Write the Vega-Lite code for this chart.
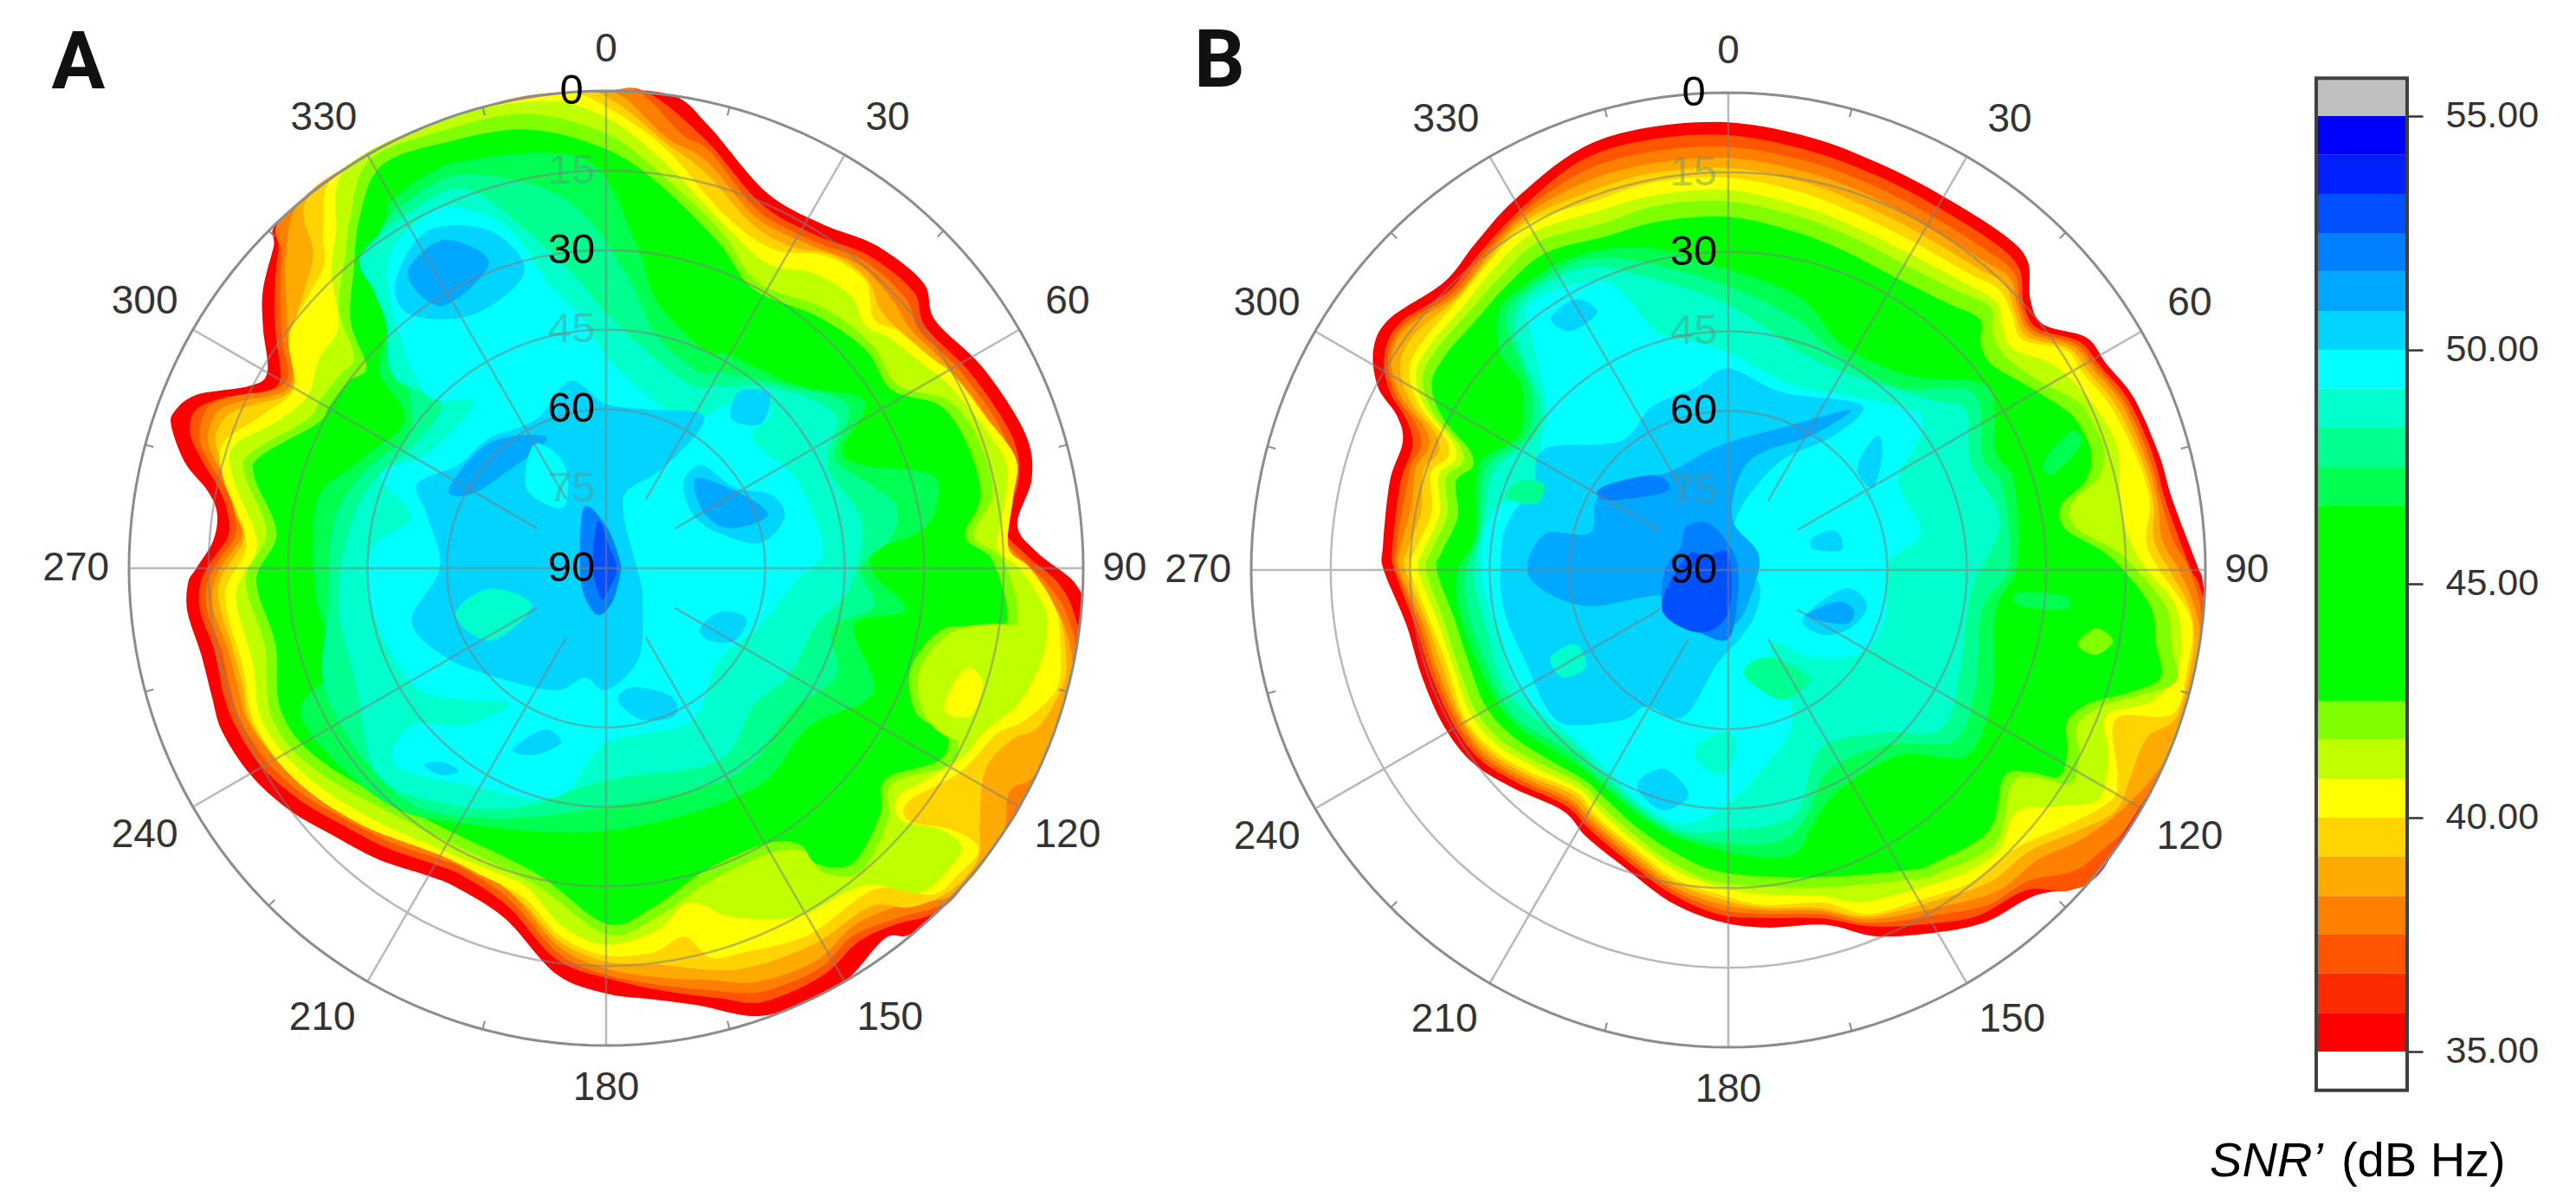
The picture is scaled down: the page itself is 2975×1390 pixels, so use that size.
{"$schema":"https://vega.github.io/schema/vega-lite/v6.json","padding":0,"spacing":0,"bounds":"flush","background":"white","config":{"view":{"stroke":null},"text":{"font":"Liberation Sans"},"axis":{"labelFont":"Liberation Sans"}},
"datasets":{
"ticks":[{"k":15,"a":15,"e":0},{"k":15,"a":15,"e":1.6},{"k":45,"a":45,"e":0},{"k":45,"a":45,"e":1.6},{"k":75,"a":75,"e":0},{"k":75,"a":75,"e":1.6},{"k":105,"a":105,"e":0},{"k":105,"a":105,"e":1.6},{"k":135,"a":135,"e":0},{"k":135,"a":135,"e":1.6},{"k":165,"a":165,"e":0},{"k":165,"a":165,"e":1.6},{"k":195,"a":195,"e":0},{"k":195,"a":195,"e":1.6},{"k":225,"a":225,"e":0},{"k":225,"a":225,"e":1.6},{"k":255,"a":255,"e":0},{"k":255,"a":255,"e":1.6},{"k":285,"a":285,"e":0},{"k":285,"a":285,"e":1.6},{"k":315,"a":315,"e":0},{"k":315,"a":315,"e":1.6},{"k":345,"a":345,"e":0},{"k":345,"a":345,"e":1.6}],
"az":[{"a":0,"e":-7.8,"t":"0"},{"a":32,"e":-10.2,"t":"30"},{"a":60,"e":-10.5,"t":"60"},{"a":90,"e":-7.8,"t":"90"},{"a":120,"e":-10.5,"t":"120"},{"a":147.7,"e":-10.2,"t":"150"},{"a":180,"e":-8,"t":"180"},{"a":212.3,"e":-10.2,"t":"210"},{"a":240,"e":-10.5,"t":"240"},{"a":270,"e":-10,"t":"270"},{"a":300,"e":-10.5,"t":"300"},{"a":327.9,"e":-10.2,"t":"330"}],
"rdark":[{"a":0,"e":0,"t":"0"},{"a":0,"e":30,"t":"30"},{"a":0,"e":60,"t":"60"},{"a":0,"e":90,"t":"90"}],
"rlight":[{"a":0,"e":15,"t":"15"},{"a":0,"e":45,"t":"45"},{"a":0,"e":75,"t":"75"}],
"A":[
{"s":35,"a":317,"e":0},{"s":35,"a":330,"e":0},{"s":35,"a":345,"e":0},{"s":35,"a":0,"e":0},{"s":35,"a":8,"e":0},{"s":35,"a":13,"e":4.3},{"s":35,"a":23,"e":12.9},{"s":35,"a":32,"e":13.4},{"s":35,"a":40,"e":10.6},{"s":35,"a":48,"e":9.5},{"s":35,"a":53,"e":12.3},{"s":35,"a":62,"e":9.5},{"s":35,"a":72,"e":7},{"s":35,"a":78,"e":7.9},{"s":35,"a":84,"e":12},{"s":35,"a":88,"e":8.5},{"s":35,"a":92,"e":1.3},{"s":35,"a":96,"e":0},{"s":35,"a":110,"e":0},{"s":35,"a":125,"e":0},{"s":35,"a":139,"e":0},{"s":35,"a":143,"e":2.6},{"s":35,"a":150,"e":0},{"s":35,"a":157,"e":0},{"s":35,"a":162,"e":1.2},{"s":35,"a":168,"e":5.7},{"s":35,"a":174,"e":8.3},{"s":35,"a":180,"e":9.8},{"s":35,"a":187,"e":12.9},{"s":35,"a":196,"e":21.2},{"s":35,"a":205,"e":23.5},{"s":35,"a":210,"e":23},{"s":35,"a":218,"e":20.3},{"s":35,"a":226,"e":17.8},{"s":35,"a":233,"e":14.7},{"s":35,"a":240,"e":12.4},{"s":35,"a":247,"e":11.3},{"s":35,"a":252,"e":11.8},{"s":35,"a":258,"e":11.9},{"s":35,"a":264,"e":10.6},{"s":35,"a":268,"e":11.1},{"s":35,"a":270,"e":12.7},{"s":35,"a":274,"e":15.7},{"s":35,"a":278,"e":15.9},{"s":35,"a":281,"e":13.4},{"s":35,"a":284,"e":8.2},{"s":35,"a":288,"e":3.8},{"s":35,"a":290,"e":3.4},{"s":35,"a":293,"e":6.2},{"s":35,"a":297,"e":14.4},{"s":35,"a":300,"e":16.2},{"s":35,"a":305,"e":11},{"s":35,"a":309,"e":6.7},{"s":35,"a":314,"e":2.8},
{"s":36.67,"a":318,"e":0},{"s":36.67,"a":330,"e":0},{"s":36.67,"a":345,"e":0},{"s":36.67,"a":0,"e":0},{"s":36.67,"a":5,"e":0},{"s":36.67,"a":13,"e":7},{"s":36.67,"a":23,"e":15.3},{"s":36.67,"a":32,"e":15.8},{"s":36.67,"a":40,"e":13},{"s":36.67,"a":48,"e":12},{"s":36.67,"a":53,"e":14.5},{"s":36.67,"a":62,"e":12},{"s":36.67,"a":72,"e":9.5},{"s":36.67,"a":78,"e":10.5},{"s":36.67,"a":84,"e":14.5},{"s":36.67,"a":88,"e":11},{"s":36.67,"a":92,"e":4.5},{"s":36.67,"a":96,"e":1},{"s":36.67,"a":100,"e":0},{"s":36.67,"a":115,"e":0},{"s":36.67,"a":130,"e":0},{"s":36.67,"a":136,"e":0},{"s":36.67,"a":141,"e":3.5},{"s":36.67,"a":146,"e":5},{"s":36.67,"a":152,"e":3},{"s":36.67,"a":160,"e":3},{"s":36.67,"a":165,"e":6},{"s":36.67,"a":171,"e":9},{"s":36.67,"a":178,"e":12},{"s":36.67,"a":187,"e":15.5},{"s":36.67,"a":196,"e":23.5},{"s":36.67,"a":205,"e":26},{"s":36.67,"a":210,"e":25.5},{"s":36.67,"a":218,"e":23},{"s":36.67,"a":226,"e":20.5},{"s":36.67,"a":233,"e":17.5},{"s":36.67,"a":240,"e":15},{"s":36.67,"a":247,"e":14},{"s":36.67,"a":252,"e":14},{"s":36.67,"a":258,"e":14.5},{"s":36.67,"a":264,"e":13},{"s":36.67,"a":268,"e":13.5},{"s":36.67,"a":271,"e":15.5},{"s":36.67,"a":275,"e":18.5},{"s":36.67,"a":279,"e":17.5},{"s":36.67,"a":282,"e":15},{"s":36.67,"a":285,"e":11},{"s":36.67,"a":288,"e":7.5},{"s":36.67,"a":291,"e":7},{"s":36.67,"a":294,"e":11},{"s":36.67,"a":297,"e":17},{"s":36.67,"a":300,"e":19},{"s":36.67,"a":305,"e":14},{"s":36.67,"a":309,"e":9.5},{"s":36.67,"a":314,"e":4},
{"s":37.5,"a":319,"e":0},{"s":37.5,"a":345,"e":0},{"s":37.5,"a":0,"e":0},{"s":37.5,"a":4,"e":0},{"s":37.5,"a":10,"e":7},{"s":37.5,"a":14,"e":9},{"s":37.5,"a":23,"e":16.7},{"s":37.5,"a":32,"e":17},{"s":37.5,"a":40,"e":14.3},{"s":37.5,"a":48,"e":14},{"s":37.5,"a":53,"e":15.8},{"s":37.5,"a":61,"e":13.5},{"s":37.5,"a":71,"e":11},{"s":37.5,"a":78,"e":11.8},{"s":37.5,"a":84,"e":15.8},{"s":37.5,"a":88,"e":12.5},{"s":37.5,"a":92,"e":6.8},{"s":37.5,"a":96,"e":2.5},{"s":37.5,"a":102,"e":0},{"s":37.5,"a":118,"e":0},{"s":37.5,"a":125,"e":0},{"s":37.5,"a":134,"e":0},{"s":37.5,"a":140,"e":4},{"s":37.5,"a":146,"e":6.5},{"s":37.5,"a":152,"e":4.5},{"s":37.5,"a":160,"e":5},{"s":37.5,"a":166,"e":8},{"s":37.5,"a":172,"e":10.5},{"s":37.5,"a":180,"e":13.3},{"s":37.5,"a":187,"e":16.8},{"s":37.5,"a":196,"e":24.8},{"s":37.5,"a":205,"e":27.3},{"s":37.5,"a":210,"e":26.8},{"s":37.5,"a":218,"e":24.3},{"s":37.5,"a":226,"e":21.8},{"s":37.5,"a":233,"e":18.8},{"s":37.5,"a":240,"e":16.5},{"s":37.5,"a":247,"e":15.3},{"s":37.5,"a":252,"e":15.5},{"s":37.5,"a":258,"e":15.8},{"s":37.5,"a":264,"e":14.3},{"s":37.5,"a":268,"e":14.8},{"s":37.5,"a":271,"e":16.8},{"s":37.5,"a":275,"e":19.8},{"s":37.5,"a":279,"e":18.8},{"s":37.5,"a":282,"e":16.5},{"s":37.5,"a":285,"e":12.5},{"s":37.5,"a":288,"e":9.3},{"s":37.5,"a":292,"e":9},{"s":37.5,"a":295,"e":13},{"s":37.5,"a":298,"e":18.5},{"s":37.5,"a":301,"e":20},{"s":37.5,"a":305,"e":15.5},{"s":37.5,"a":309,"e":11},{"s":37.5,"a":314,"e":5},
{"s":38.33,"a":320,"e":0},{"s":38.33,"a":330,"e":0},{"s":38.33,"a":345,"e":0},{"s":38.33,"a":358,"e":0},{"s":38.33,"a":2,"e":1},{"s":38.33,"a":8,"e":8},{"s":38.33,"a":14,"e":11},{"s":38.33,"a":23,"e":18},{"s":38.33,"a":32,"e":18},{"s":38.33,"a":40,"e":15.5},{"s":38.33,"a":47,"e":16},{"s":38.33,"a":52,"e":17},{"s":38.33,"a":60,"e":15},{"s":38.33,"a":70,"e":12.5},{"s":38.33,"a":78,"e":13},{"s":38.33,"a":84,"e":17},{"s":38.33,"a":88,"e":14},{"s":38.33,"a":92,"e":9},{"s":38.33,"a":96,"e":4},{"s":38.33,"a":100,"e":1},{"s":38.33,"a":104,"e":0},{"s":38.33,"a":115,"e":0},{"s":38.33,"a":119,"e":3},{"s":38.33,"a":124,"e":0},{"s":38.33,"a":133,"e":0},{"s":38.33,"a":138,"e":5},{"s":38.33,"a":145,"e":8},{"s":38.33,"a":152,"e":6},{"s":38.33,"a":160,"e":7},{"s":38.33,"a":166,"e":10},{"s":38.33,"a":172,"e":12},{"s":38.33,"a":180,"e":14.5},{"s":38.33,"a":187,"e":18},{"s":38.33,"a":196,"e":26},{"s":38.33,"a":205,"e":28.5},{"s":38.33,"a":210,"e":28},{"s":38.33,"a":218,"e":25.5},{"s":38.33,"a":226,"e":23},{"s":38.33,"a":233,"e":20},{"s":38.33,"a":240,"e":18},{"s":38.33,"a":247,"e":16.5},{"s":38.33,"a":252,"e":17},{"s":38.33,"a":258,"e":17},{"s":38.33,"a":264,"e":15.5},{"s":38.33,"a":268,"e":16},{"s":38.33,"a":271,"e":18},{"s":38.33,"a":275,"e":21},{"s":38.33,"a":279,"e":20},{"s":38.33,"a":282,"e":18},{"s":38.33,"a":285,"e":14},{"s":38.33,"a":288,"e":11},{"s":38.33,"a":292,"e":11},{"s":38.33,"a":295,"e":15},{"s":38.33,"a":298,"e":20},{"s":38.33,"a":301,"e":21},{"s":38.33,"a":305,"e":17},{"s":38.33,"a":309,"e":12.5},{"s":38.33,"a":314,"e":6},
{"s":39.17,"a":322,"e":0},{"s":39.17,"a":340,"e":0},{"s":39.17,"a":356,"e":0},{"s":39.17,"a":1,"e":2},{"s":39.17,"a":8,"e":9},{"s":39.17,"a":14,"e":13},{"s":39.17,"a":23,"e":19.5},{"s":39.17,"a":30,"e":20},{"s":39.17,"a":36,"e":17},{"s":39.17,"a":42,"e":16.5},{"s":39.17,"a":47,"e":19},{"s":39.17,"a":52,"e":18.5},{"s":39.17,"a":60,"e":16},{"s":39.17,"a":70,"e":13},{"s":39.17,"a":78,"e":12.5},{"s":39.17,"a":84,"e":15.5},{"s":39.17,"a":88,"e":14},{"s":39.17,"a":92,"e":8.5},{"s":39.17,"a":96,"e":4},{"s":39.17,"a":100,"e":2},{"s":39.17,"a":104,"e":1},{"s":39.17,"a":110,"e":3},{"s":39.17,"a":113,"e":7},{"s":39.17,"a":118,"e":9},{"s":39.17,"a":124,"e":5},{"s":39.17,"a":128,"e":1},{"s":39.17,"a":133,"e":1},{"s":39.17,"a":138,"e":4},{"s":39.17,"a":142,"e":9},{"s":39.17,"a":151,"e":9},{"s":39.17,"a":160,"e":10},{"s":39.17,"a":166,"e":12},{"s":39.17,"a":172,"e":14.5},{"s":39.17,"a":180,"e":15.8},{"s":39.17,"a":187,"e":19},{"s":39.17,"a":194,"e":25},{"s":39.17,"a":202,"e":28},{"s":39.17,"a":210,"e":27.8},{"s":39.17,"a":218,"e":26},{"s":39.17,"a":226,"e":23},{"s":39.17,"a":236,"e":19.5},{"s":39.17,"a":246,"e":17},{"s":39.17,"a":252,"e":18},{"s":39.17,"a":258,"e":18},{"s":39.17,"a":264,"e":16.8},{"s":39.17,"a":268,"e":17},{"s":39.17,"a":272,"e":20},{"s":39.17,"a":275,"e":21.5},{"s":39.17,"a":279,"e":19},{"s":39.17,"a":283,"e":17},{"s":39.17,"a":288,"e":12.5},{"s":39.17,"a":292,"e":13},{"s":39.17,"a":295,"e":17},{"s":39.17,"a":298,"e":21},{"s":39.17,"a":301,"e":21.5},{"s":39.17,"a":306,"e":16.5},{"s":39.17,"a":312,"e":13},{"s":39.17,"a":317,"e":9},
{"s":40,"a":325,"e":0},{"s":40,"a":335,"e":0},{"s":40,"a":345,"e":0},{"s":40,"a":355,"e":0},{"s":40,"a":0,"e":3},{"s":40,"a":8,"e":10},{"s":40,"a":19,"e":20},{"s":40,"a":28,"e":22},{"s":40,"a":35,"e":18},{"s":40,"a":42,"e":17},{"s":40,"a":47,"e":21},{"s":40,"a":51,"e":19},{"s":40,"a":57,"e":17},{"s":40,"a":61,"e":15},{"s":40,"a":68,"e":13},{"s":40,"a":75,"e":10},{"s":40,"a":80,"e":12},{"s":40,"a":87,"e":14},{"s":40,"a":90,"e":10},{"s":40,"a":95,"e":5},{"s":40,"a":100,"e":3},{"s":40,"a":105,"e":2},{"s":40,"a":110,"e":6},{"s":40,"a":113,"e":10},{"s":40,"a":120,"e":13},{"s":40,"a":127.6,"e":18},{"s":40,"a":129.8,"e":15.5},{"s":40,"a":127,"e":8},{"s":40,"a":127,"e":2},{"s":40,"a":131,"e":2},{"s":40,"a":135,"e":3},{"s":40,"a":140,"e":11},{"s":40,"a":151,"e":11},{"s":40,"a":160,"e":13},{"s":40,"a":165,"e":14},{"s":40,"a":168,"e":19},{"s":40,"a":173,"e":17},{"s":40,"a":180,"e":17},{"s":40,"a":187,"e":20},{"s":40,"a":194,"e":26},{"s":40,"a":202,"e":27.5},{"s":40,"a":210,"e":27.5},{"s":40,"a":224,"e":23},{"s":40,"a":236,"e":19},{"s":40,"a":246,"e":17.5},{"s":40,"a":255,"e":19},{"s":40,"a":266,"e":18},{"s":40,"a":274,"e":22},{"s":40,"a":283,"e":16},{"s":40,"a":288,"e":14},{"s":40,"a":294,"e":19},{"s":40,"a":300,"e":22},{"s":40,"a":306,"e":16},{"s":40,"a":312,"e":14},{"s":40,"a":317,"e":12},{"s":40,"a":320,"e":7},
{"s":40.83,"a":327,"e":0},{"s":40.83,"a":340,"e":0},{"s":40.83,"a":352,"e":1},{"s":40.83,"a":0,"e":5},{"s":40.83,"a":8,"e":12.5},{"s":40.83,"a":19,"e":21.5},{"s":40.83,"a":28,"e":25},{"s":40.83,"a":35,"e":22},{"s":40.83,"a":42,"e":21},{"s":40.83,"a":47,"e":23},{"s":40.83,"a":51,"e":21},{"s":40.83,"a":57,"e":19},{"s":40.83,"a":61,"e":17},{"s":40.83,"a":68,"e":14.5},{"s":40.83,"a":75,"e":12},{"s":40.83,"a":80,"e":13.5},{"s":40.83,"a":87,"e":16},{"s":40.83,"a":90,"e":12},{"s":40.83,"a":95,"e":7},{"s":40.83,"a":98,"e":6},{"s":40.83,"a":102,"e":6},{"s":40.83,"a":108,"e":8},{"s":40.83,"a":113,"e":12},{"s":40.83,"a":118,"e":14},{"s":40.83,"a":124,"e":18},{"s":40.83,"a":128,"e":20},{"s":40.83,"a":130.5,"e":17},{"s":40.83,"a":128,"e":10},{"s":40.83,"a":128,"e":5},{"s":40.83,"a":131,"e":4},{"s":40.83,"a":136,"e":5},{"s":40.83,"a":141,"e":13},{"s":40.83,"a":151,"e":15},{"s":40.83,"a":160,"e":20},{"s":40.83,"a":166,"e":25},{"s":40.83,"a":172,"e":21},{"s":40.83,"a":180,"e":19},{"s":40.83,"a":187,"e":22},{"s":40.83,"a":194,"e":28},{"s":40.83,"a":202,"e":29},{"s":40.83,"a":210,"e":28.5},{"s":40.83,"a":224,"e":25},{"s":40.83,"a":236,"e":21},{"s":40.83,"a":246,"e":19},{"s":40.83,"a":255,"e":21},{"s":40.83,"a":266,"e":20},{"s":40.83,"a":274,"e":24},{"s":40.83,"a":283,"e":18},{"s":40.83,"a":288,"e":16},{"s":40.83,"a":294,"e":22},{"s":40.83,"a":300,"e":25},{"s":40.83,"a":306,"e":23},{"s":40.83,"a":312,"e":22},{"s":40.83,"a":317,"e":14},{"s":40.83,"a":321,"e":9},
{"s":41.67,"a":330,"e":1},{"s":41.67,"a":340,"e":2},{"s":41.67,"a":350,"e":3},{"s":41.67,"a":0,"e":8},{"s":41.67,"a":8,"e":15},{"s":41.67,"a":19,"e":23},{"s":41.67,"a":28,"e":29},{"s":41.67,"a":40,"e":26},{"s":41.67,"a":50,"e":24.5},{"s":41.67,"a":58,"e":25},{"s":41.67,"a":64,"e":18},{"s":41.67,"a":71,"e":15.7},{"s":41.67,"a":79,"e":15.7},{"s":41.67,"a":85,"e":20.4},{"s":41.67,"a":89,"e":15},{"s":41.67,"a":98,"e":12},{"s":41.67,"a":100,"e":23},{"s":41.67,"a":108,"e":27.8},{"s":41.67,"a":115,"e":23.4},{"s":41.67,"a":116,"e":16.5},{"s":41.67,"a":120,"e":15.6},{"s":41.67,"a":127,"e":22.5},{"s":41.67,"a":132,"e":18.6},{"s":41.67,"a":140,"e":15.3},{"s":41.67,"a":144.5,"e":19.6},{"s":41.67,"a":145,"e":24.7},{"s":41.67,"a":150,"e":28},{"s":41.67,"a":162,"e":27.8},{"s":41.67,"a":172,"e":23.4},{"s":41.67,"a":180,"e":21},{"s":41.67,"a":193,"e":29},{"s":41.67,"a":214,"e":30},{"s":41.67,"a":235,"e":23.4},{"s":41.67,"a":246,"e":21},{"s":41.67,"a":257,"e":24},{"s":41.67,"a":268,"e":22},{"s":41.67,"a":276,"e":25.6},{"s":41.67,"a":284.5,"e":19.6},{"s":41.67,"a":288,"e":19.6},{"s":41.67,"a":296.5,"e":27},{"s":41.67,"a":300.6,"e":27.4},{"s":41.67,"a":306,"e":28},{"s":41.67,"a":310,"e":28},{"s":41.67,"a":314,"e":20},{"s":41.67,"a":320,"e":13.4},{"s":41.67,"a":324,"e":8},
{"s":42.5,"a":331,"e":3},{"s":42.5,"a":340,"e":4.3},{"s":42.5,"a":350,"e":6},{"s":42.5,"a":0,"e":11},{"s":42.5,"a":8,"e":17},{"s":42.5,"a":19,"e":25},{"s":42.5,"a":28,"e":30.5},{"s":42.5,"a":40,"e":28},{"s":42.5,"a":50,"e":26},{"s":42.5,"a":58,"e":26.5},{"s":42.5,"a":64,"e":20},{"s":42.5,"a":71,"e":18},{"s":42.5,"a":79,"e":18},{"s":42.5,"a":85,"e":22},{"s":42.5,"a":89,"e":17},{"s":42.5,"a":98,"e":14},{"s":42.5,"a":100,"e":25},{"s":42.5,"a":108,"e":29.5},{"s":42.5,"a":115,"e":25.5},{"s":42.5,"a":116,"e":18.5},{"s":42.5,"a":120,"e":17.5},{"s":42.5,"a":127,"e":24},{"s":42.5,"a":132,"e":20.5},{"s":42.5,"a":140,"e":17.5},{"s":42.5,"a":144.5,"e":21.5},{"s":42.5,"a":145,"e":26.5},{"s":42.5,"a":150,"e":30},{"s":42.5,"a":162,"e":30},{"s":42.5,"a":172,"e":25.5},{"s":42.5,"a":180,"e":23},{"s":42.5,"a":193,"e":31},{"s":42.5,"a":214,"e":32},{"s":42.5,"a":235,"e":25.5},{"s":42.5,"a":246,"e":23},{"s":42.5,"a":257,"e":26},{"s":42.5,"a":268,"e":24},{"s":42.5,"a":276,"e":27.5},{"s":42.5,"a":284.5,"e":21.5},{"s":42.5,"a":288,"e":21.5},{"s":42.5,"a":296.5,"e":29},{"s":42.5,"a":300.6,"e":29.5},{"s":42.5,"a":306,"e":30},{"s":42.5,"a":310,"e":31},{"s":42.5,"a":314,"e":23},{"s":42.5,"a":320,"e":16},{"s":42.5,"a":325,"e":9},
{"s":40.84,"a":98,"e":12},{"s":40.84,"a":101,"e":12},{"s":40.84,"a":106,"e":14},{"s":40.84,"a":112,"e":14},{"s":40.84,"a":116,"e":16.5},{"s":40.84,"a":115,"e":23.4},{"s":40.84,"a":108,"e":27.8},{"s":40.84,"a":100,"e":23},
{"s":40.01,"a":110,"e":21.2},{"s":40.01,"a":105.4,"e":19.3},{"s":40.01,"a":107,"e":15.7},{"s":40.01,"a":112,"e":15.8},{"s":40.01,"a":113,"e":20.4},
{"s":46.67,"a":328,"e":12},{"s":46.67,"a":330,"e":9.6},{"s":46.67,"a":340,"e":8.5},{"s":46.67,"a":357,"e":12.8},{"s":46.67,"a":5,"e":28},{"s":46.67,"a":11,"e":39},{"s":46.67,"a":25,"e":45},{"s":46.67,"a":29.5,"e":43.6},{"s":46.67,"a":46,"e":40.3},{"s":46.67,"a":57,"e":32},{"s":46.67,"a":63,"e":40},{"s":46.67,"a":68,"e":38},{"s":46.67,"a":74,"e":26},{"s":46.67,"a":80,"e":27},{"s":46.67,"a":83.6,"e":31},{"s":46.67,"a":86,"e":39},{"s":46.67,"a":91,"e":39.7},{"s":46.67,"a":98,"e":33},{"s":46.67,"a":103,"e":42},{"s":46.67,"a":115,"e":34.5},{"s":46.67,"a":128,"e":41.5},{"s":46.67,"a":147,"e":40},{"s":46.67,"a":180,"e":40.5},{"s":46.67,"a":210,"e":34.5},{"s":46.67,"a":224.6,"e":29},{"s":46.67,"a":244,"e":26},{"s":46.67,"a":250.6,"e":35.5},{"s":46.67,"a":264.5,"e":35},{"s":46.67,"a":283,"e":34},{"s":46.67,"a":293,"e":39},{"s":46.67,"a":306.5,"e":42.8},{"s":46.67,"a":311,"e":33.3},{"s":46.67,"a":318.7,"e":28},{"s":46.67,"a":321.8,"e":19},
{"s":47.5,"a":326,"e":13.5},{"s":47.5,"a":333,"e":11},{"s":47.5,"a":340,"e":11},{"s":47.5,"a":350,"e":17},{"s":47.5,"a":357,"e":24},{"s":47.5,"a":5,"e":36},{"s":47.5,"a":12,"e":45},{"s":47.5,"a":25,"e":49},{"s":47.5,"a":31,"e":47},{"s":47.5,"a":44,"e":42},{"s":47.5,"a":56,"e":35},{"s":47.5,"a":64,"e":42},{"s":47.5,"a":72,"e":38},{"s":47.5,"a":78,"e":34},{"s":47.5,"a":84,"e":36},{"s":47.5,"a":90,"e":42},{"s":47.5,"a":98,"e":39},{"s":47.5,"a":105,"e":46},{"s":47.5,"a":115,"e":42},{"s":47.5,"a":128,"e":46},{"s":47.5,"a":148,"e":44},{"s":47.5,"a":180,"e":45},{"s":47.5,"a":205,"e":38},{"s":47.5,"a":222,"e":32},{"s":47.5,"a":245,"e":32},{"s":47.5,"a":262,"e":37},{"s":47.5,"a":280,"e":38},{"s":47.5,"a":292,"e":41},{"s":47.5,"a":304,"e":45},{"s":47.5,"a":312,"e":40},{"s":47.5,"a":318,"e":31},{"s":47.5,"a":320,"e":23},
{"s":48.33,"a":322,"e":15},{"s":48.33,"a":333,"e":13},{"s":48.33,"a":340,"e":14},{"s":48.33,"a":347,"e":25},{"s":48.33,"a":355,"e":36},{"s":48.33,"a":0,"e":42},{"s":48.33,"a":12,"e":49},{"s":48.33,"a":25,"e":52},{"s":48.33,"a":31,"e":50},{"s":48.33,"a":42,"e":44},{"s":48.33,"a":56,"e":38},{"s":48.33,"a":65,"e":44},{"s":48.33,"a":80,"e":41},{"s":48.33,"a":95,"e":44},{"s":48.33,"a":105,"e":49},{"s":48.33,"a":120,"e":50},{"s":48.33,"a":133,"e":52},{"s":48.33,"a":150,"e":48},{"s":48.33,"a":180,"e":50},{"s":48.33,"a":200,"e":42},{"s":48.33,"a":215,"e":36},{"s":48.33,"a":228,"e":32},{"s":48.33,"a":245,"e":38},{"s":48.33,"a":262,"e":39},{"s":48.33,"a":278,"e":41},{"s":48.33,"a":290,"e":43},{"s":48.33,"a":303,"e":47},{"s":48.33,"a":315,"e":46},{"s":48.33,"a":312,"e":36},{"s":48.33,"a":318,"e":28},{"s":48.33,"a":320,"e":22},
{"s":49.17,"a":325,"e":18.5},{"s":49.17,"a":333,"e":15.2},{"s":49.17,"a":338,"e":16.8},{"s":49.17,"a":344,"e":23.5},{"s":49.17,"a":349,"e":36},{"s":49.17,"a":355,"e":43},{"s":49.17,"a":0,"e":50},{"s":49.17,"a":17,"e":57.5},{"s":49.17,"a":31,"e":57},{"s":49.17,"a":38,"e":50},{"s":49.17,"a":46.7,"e":47},{"s":49.17,"a":48.6,"e":53},{"s":49.17,"a":65,"e":50.5},{"s":49.17,"a":85,"e":49},{"s":49.17,"a":94.5,"e":54.4},{"s":49.17,"a":110,"e":59},{"s":49.17,"a":130.5,"e":62.5},{"s":49.17,"a":151,"e":57},{"s":49.17,"a":180,"e":57},{"s":49.17,"a":192,"e":46},{"s":49.17,"a":211,"e":42},{"s":49.17,"a":227,"e":35.6},{"s":49.17,"a":231,"e":43},{"s":49.17,"a":222,"e":50},{"s":49.17,"a":215.7,"e":58.6},{"s":49.17,"a":228,"e":53},{"s":49.17,"a":239.4,"e":47.4},{"s":49.17,"a":261,"e":45},{"s":49.17,"a":275.5,"e":46},{"s":49.17,"a":284.7,"e":52},{"s":49.17,"a":292.5,"e":44},{"s":49.17,"a":303,"e":50},{"s":49.17,"a":321.5,"e":50},{"s":49.17,"a":314,"e":43},{"s":49.17,"a":319.5,"e":28.8},
{"s":50,"a":349,"e":54},{"s":50,"a":0,"e":59},{"s":50,"a":15,"e":59},{"s":50,"a":33,"e":56},{"s":50,"a":30,"e":68},{"s":50,"a":15,"e":75},{"s":50,"a":20,"e":80},{"s":50,"a":55,"e":84},{"s":50,"a":112,"e":83},{"s":50,"a":130,"e":81},{"s":50,"a":160,"e":72},{"s":50,"a":180,"e":67},{"s":50,"a":191,"e":69},{"s":50,"a":203,"e":65},{"s":50,"a":228,"e":60},{"s":50,"a":242,"e":55},{"s":50,"a":255,"e":52},{"s":50,"a":270,"e":58.6},{"s":50,"a":286,"e":55},{"s":50,"a":294,"e":51},{"s":50,"a":305,"e":56},{"s":50,"a":318,"e":57},{"s":50,"a":335,"e":59},
{"s":50.01,"a":323.6,"e":23},{"s":50.01,"a":332,"e":18},{"s":50.01,"a":341,"e":22.7},{"s":50.01,"a":344.6,"e":32},{"s":50.01,"a":332.5,"e":36},{"s":50.01,"a":322.4,"e":29.7},
{"s":50.84,"a":326,"e":23},{"s":50.84,"a":333.6,"e":20.9},{"s":50.84,"a":339,"e":28.3},{"s":50.84,"a":328,"e":31.7},
{"s":50.02,"a":122.6,"e":69},{"s":50.02,"a":110.6,"e":66.8},{"s":50.02,"a":109.7,"e":61.9},{"s":50.02,"a":119.5,"e":62.2},{"s":50.02,"a":125,"e":66.2},
{"s":50.03,"a":167,"e":67},{"s":50.03,"a":153,"e":62.9},{"s":50.03,"a":155,"e":59.3},{"s":50.03,"a":166.5,"e":60.6},{"s":50.03,"a":175,"e":65},
{"s":50.04,"a":222.8,"e":39.5},{"s":50.04,"a":220,"e":42.3},{"s":50.04,"a":215.9,"e":42.6},{"s":50.04,"a":218.8,"e":40},
{"s":50.05,"a":207.3,"e":51.6},{"s":50.05,"a":201,"e":57.5},{"s":50.05,"a":194.5,"e":56},{"s":50.05,"a":201,"e":52.3},
{"s":50.06,"a":37,"e":48.4},{"s":50.06,"a":43,"e":45},{"s":50.06,"a":47,"e":50},{"s":50.06,"a":40,"e":53.3},
{"s":50.07,"a":41.7,"e":68},{"s":50.07,"a":43,"e":63.4},{"s":50.07,"a":57.8,"e":61.4},{"s":50.07,"a":66,"e":55.9},{"s":50.07,"a":74,"e":55},{"s":50.07,"a":80.7,"e":60.8},{"s":50.07,"a":70,"e":68.8},{"s":50.07,"a":55,"e":70.7},
{"s":50.85,"a":45,"e":66},{"s":50.85,"a":62,"e":60.6},{"s":50.85,"a":72,"e":58},{"s":50.85,"a":72,"e":65.5},{"s":50.85,"a":60,"e":68.8},
{"s":50.86,"a":297,"e":56.8},{"s":50.86,"a":317,"e":57.7},{"s":50.86,"a":335.6,"e":63},{"s":50.86,"a":312,"e":63.7},{"s":50.86,"a":298,"e":60.6},
{"s":49.18,"a":315,"e":68.8},{"s":49.18,"a":330,"e":63},{"s":49.18,"a":338,"e":68.8},{"s":49.18,"a":325,"e":76},
{"s":48.34,"a":253,"e":60.3},{"s":48.34,"a":260,"e":67.8},{"s":48.34,"a":243,"e":74.3},{"s":48.34,"a":238,"e":64.2},
{"s":51.67,"a":340,"e":77.8},{"s":51.67,"a":0,"e":82},{"s":51.67,"a":60,"e":87},{"s":51.67,"a":120,"e":87},{"s":51.67,"a":170,"e":83.5},{"s":51.67,"a":190,"e":81},{"s":51.67,"a":220,"e":83.5},{"s":51.67,"a":280,"e":85},
{"s":52.5,"a":350,"e":81},{"s":52.5,"a":10,"e":86},{"s":52.5,"a":100,"e":88},{"s":52.5,"a":180,"e":85},{"s":52.5,"a":190,"e":84.3},{"s":52.5,"a":270,"e":87.5}
],
"B":[
{"s":35,"a":0,"e":5.6},{"s":35,"a":11,"e":7},{"s":35,"a":20,"e":8.2},{"s":35,"a":29,"e":8.7},{"s":35,"a":39,"e":8.2},{"s":35,"a":44,"e":8.8},{"s":35,"a":48,"e":13.4},{"s":35,"a":52,"e":14.7},{"s":35,"a":57,"e":9.5},{"s":35,"a":61.4,"e":8.8},{"s":35,"a":67,"e":6.9},{"s":35,"a":75,"e":5.9},{"s":35,"a":81,"e":5.2},{"s":35,"a":89.5,"e":1.5},{"s":35,"a":91,"e":0.6},{"s":35,"a":95,"e":0},{"s":35,"a":105,"e":0},{"s":35,"a":115,"e":0},{"s":35,"a":125,"e":0},{"s":35,"a":131,"e":0},{"s":35,"a":136.8,"e":5.7},{"s":35,"a":143.7,"e":7.7},{"s":35,"a":150,"e":11.1},{"s":35,"a":158,"e":15.5},{"s":35,"a":164.6,"e":20.6},{"s":35,"a":174,"e":22.2},{"s":35,"a":181.5,"e":23.7},{"s":35,"a":190,"e":26.5},{"s":35,"a":199.5,"e":30.7},{"s":35,"a":208,"e":33},{"s":35,"a":214.5,"e":34.9},{"s":35,"a":224.7,"e":32.2},{"s":35,"a":233,"e":29.6},{"s":35,"a":241.3,"e":28.8},{"s":35,"a":250.7,"e":28.8},{"s":35,"a":260.4,"e":28.4},{"s":35,"a":270,"e":25},{"s":35,"a":274,"e":24.7},{"s":35,"a":284.7,"e":24},{"s":35,"a":291.5,"e":24},{"s":35,"a":295,"e":21},{"s":35,"a":297.6,"e":15.4},{"s":35,"a":302,"e":11.1},{"s":35,"a":306.7,"e":10.5},{"s":35,"a":315.3,"e":13.7},{"s":35,"a":322.2,"e":12.1},{"s":35,"a":329.7,"e":9.5},{"s":35,"a":340,"e":6},{"s":35,"a":348.6,"e":5.2},
{"s":36.67,"a":0,"e":8},{"s":36.67,"a":11,"e":9.5},{"s":36.67,"a":20,"e":10.5},{"s":36.67,"a":29,"e":11},{"s":36.67,"a":39,"e":10.5},{"s":36.67,"a":44,"e":11},{"s":36.67,"a":48,"e":15},{"s":36.67,"a":52,"e":16},{"s":36.67,"a":57,"e":11},{"s":36.67,"a":61.4,"e":10},{"s":36.67,"a":67,"e":8},{"s":36.67,"a":75,"e":7},{"s":36.67,"a":81,"e":6.5},{"s":36.67,"a":89.5,"e":3},{"s":36.67,"a":92,"e":1},{"s":36.67,"a":96,"e":0},{"s":36.67,"a":110,"e":0},{"s":36.67,"a":128,"e":0},{"s":36.67,"a":133,"e":1.5},{"s":36.67,"a":137,"e":7.5},{"s":36.67,"a":144,"e":9.5},{"s":36.67,"a":150,"e":13},{"s":36.67,"a":158,"e":17.5},{"s":36.67,"a":165,"e":22},{"s":36.67,"a":174,"e":24},{"s":36.67,"a":181.5,"e":25},{"s":36.67,"a":190,"e":28},{"s":36.67,"a":199.5,"e":32},{"s":36.67,"a":208,"e":34.5},{"s":36.67,"a":214.5,"e":36},{"s":36.67,"a":224.7,"e":33.5},{"s":36.67,"a":233,"e":31},{"s":36.67,"a":241,"e":30.5},{"s":36.67,"a":251,"e":30.5},{"s":36.67,"a":260,"e":30},{"s":36.67,"a":270,"e":27},{"s":36.67,"a":274,"e":26.5},{"s":36.67,"a":285,"e":26},{"s":36.67,"a":291.5,"e":26},{"s":36.67,"a":295,"e":23},{"s":36.67,"a":298,"e":17.5},{"s":36.67,"a":302,"e":13.5},{"s":36.67,"a":307,"e":12.5},{"s":36.67,"a":315,"e":15.5},{"s":36.67,"a":322,"e":14},{"s":36.67,"a":330,"e":11.5},{"s":36.67,"a":340,"e":8},{"s":36.67,"a":349,"e":7.5},
{"s":37.5,"a":0,"e":10.2},{"s":37.5,"a":11,"e":11.5},{"s":37.5,"a":20,"e":12.5},{"s":37.5,"a":29,"e":13},{"s":37.5,"a":39,"e":12.5},{"s":37.5,"a":44,"e":12.3},{"s":37.5,"a":48,"e":15.8},{"s":37.5,"a":52,"e":16.8},{"s":37.5,"a":57,"e":11.8},{"s":37.5,"a":61,"e":10.8},{"s":37.5,"a":67,"e":8.8},{"s":37.5,"a":75,"e":7.8},{"s":37.5,"a":81,"e":7.3},{"s":37.5,"a":86,"e":6},{"s":37.5,"a":90,"e":3},{"s":37.5,"a":95,"e":0.5},{"s":37.5,"a":100,"e":0},{"s":37.5,"a":112,"e":0},{"s":37.5,"a":122,"e":0.5},{"s":37.5,"a":127,"e":2},{"s":37.5,"a":131,"e":3.5},{"s":37.5,"a":136,"e":8.5},{"s":37.5,"a":142,"e":10},{"s":37.5,"a":148,"e":13.5},{"s":37.5,"a":158,"e":18.2},{"s":37.5,"a":165,"e":22.8},{"s":37.5,"a":174,"e":24.8},{"s":37.5,"a":181.5,"e":26},{"s":37.5,"a":190,"e":28.8},{"s":37.5,"a":199.5,"e":32.8},{"s":37.5,"a":208,"e":35.3},{"s":37.5,"a":214.5,"e":36.8},{"s":37.5,"a":224.7,"e":34.3},{"s":37.5,"a":233,"e":31.8},{"s":37.5,"a":241,"e":31.3},{"s":37.5,"a":251,"e":31.3},{"s":37.5,"a":260,"e":30.8},{"s":37.5,"a":270,"e":27.5},{"s":37.5,"a":274,"e":27.3},{"s":37.5,"a":281,"e":27.5},{"s":37.5,"a":288,"e":27},{"s":37.5,"a":292,"e":27.5},{"s":37.5,"a":295,"e":25},{"s":37.5,"a":298,"e":18.8},{"s":37.5,"a":302,"e":14.3},{"s":37.5,"a":307,"e":13.3},{"s":37.5,"a":315,"e":16.3},{"s":37.5,"a":322,"e":14.8},{"s":37.5,"a":330,"e":12.3},{"s":37.5,"a":340,"e":10},{"s":37.5,"a":349,"e":9.8},
{"s":38.33,"a":0,"e":12.3},{"s":38.33,"a":11,"e":13.5},{"s":38.33,"a":20,"e":14.5},{"s":38.33,"a":29,"e":15},{"s":38.33,"a":39,"e":14.5},{"s":38.33,"a":44,"e":13.5},{"s":38.33,"a":48,"e":16.5},{"s":38.33,"a":52,"e":17.5},{"s":38.33,"a":57,"e":12.5},{"s":38.33,"a":61,"e":11.5},{"s":38.33,"a":67,"e":9.5},{"s":38.33,"a":75,"e":8.5},{"s":38.33,"a":81,"e":8},{"s":38.33,"a":86,"e":8},{"s":38.33,"a":90,"e":5},{"s":38.33,"a":95,"e":1.5},{"s":38.33,"a":100,"e":0},{"s":38.33,"a":112,"e":0},{"s":38.33,"a":120,"e":2.5},{"s":38.33,"a":127,"e":6},{"s":38.33,"a":133,"e":10},{"s":38.33,"a":140,"e":11},{"s":38.33,"a":148,"e":15},{"s":38.33,"a":158,"e":19},{"s":38.33,"a":165,"e":23.5},{"s":38.33,"a":174,"e":25.5},{"s":38.33,"a":181.5,"e":27},{"s":38.33,"a":190,"e":29.5},{"s":38.33,"a":199.5,"e":33.5},{"s":38.33,"a":208,"e":36},{"s":38.33,"a":214.5,"e":37.5},{"s":38.33,"a":224.7,"e":35},{"s":38.33,"a":233,"e":32.5},{"s":38.33,"a":241,"e":32},{"s":38.33,"a":251,"e":32},{"s":38.33,"a":260,"e":31.5},{"s":38.33,"a":270,"e":28},{"s":38.33,"a":274,"e":28},{"s":38.33,"a":281,"e":29},{"s":38.33,"a":288,"e":28},{"s":38.33,"a":292,"e":29},{"s":38.33,"a":295,"e":27},{"s":38.33,"a":298,"e":20},{"s":38.33,"a":302,"e":15},{"s":38.33,"a":307,"e":14},{"s":38.33,"a":315,"e":17},{"s":38.33,"a":322,"e":15.5},{"s":38.33,"a":330,"e":13},{"s":38.33,"a":340,"e":12},{"s":38.33,"a":349,"e":12},
{"s":39.17,"a":0,"e":14.2},{"s":39.17,"a":11,"e":15.5},{"s":39.17,"a":20,"e":16.6},{"s":39.17,"a":29,"e":17},{"s":39.17,"a":39,"e":16.3},{"s":39.17,"a":44,"e":15},{"s":39.17,"a":48,"e":17.3},{"s":39.17,"a":52,"e":18.5},{"s":39.17,"a":57,"e":13.3},{"s":39.17,"a":61,"e":12.5},{"s":39.17,"a":67,"e":10.5},{"s":39.17,"a":75,"e":9.3},{"s":39.17,"a":81,"e":8.8},{"s":39.17,"a":86,"e":9.5},{"s":39.17,"a":90,"e":6.8},{"s":39.17,"a":95,"e":2.5},{"s":39.17,"a":100,"e":1},{"s":39.17,"a":108,"e":1},{"s":39.17,"a":112,"e":5},{"s":39.17,"a":118,"e":4.5},{"s":39.17,"a":122,"e":4},{"s":39.17,"a":127,"e":8},{"s":39.17,"a":133,"e":12.3},{"s":39.17,"a":140,"e":13.2},{"s":39.17,"a":148,"e":16.5},{"s":39.17,"a":158,"e":19.5},{"s":39.17,"a":165,"e":24},{"s":39.17,"a":174,"e":26},{"s":39.17,"a":181,"e":27.8},{"s":39.17,"a":190,"e":30.3},{"s":39.17,"a":199.5,"e":34.3},{"s":39.17,"a":208,"e":36.7},{"s":39.17,"a":214.5,"e":38.4},{"s":39.17,"a":224.7,"e":35.8},{"s":39.17,"a":233,"e":33.3},{"s":39.17,"a":241,"e":32.5},{"s":39.17,"a":251,"e":33},{"s":39.17,"a":260,"e":32.3},{"s":39.17,"a":270,"e":29},{"s":39.17,"a":274,"e":29.5},{"s":39.17,"a":281,"e":31},{"s":39.17,"a":288,"e":29.5},{"s":39.17,"a":292,"e":31},{"s":39.17,"a":295,"e":29},{"s":39.17,"a":298,"e":22},{"s":39.17,"a":302,"e":17},{"s":39.17,"a":307,"e":16},{"s":39.17,"a":315,"e":17.5},{"s":39.17,"a":322,"e":16},{"s":39.17,"a":330,"e":13.8},{"s":39.17,"a":340,"e":14},{"s":39.17,"a":349,"e":13.8},
{"s":40,"a":0,"e":16},{"s":40,"a":11,"e":17.5},{"s":40,"a":20,"e":18.7},{"s":40,"a":29,"e":19},{"s":40,"a":39,"e":18},{"s":40,"a":44,"e":16.5},{"s":40,"a":48,"e":18},{"s":40,"a":52,"e":19.5},{"s":40,"a":57,"e":14},{"s":40,"a":61,"e":13.5},{"s":40,"a":67,"e":11.5},{"s":40,"a":75,"e":10},{"s":40,"a":81,"e":9.5},{"s":40,"a":86,"e":11},{"s":40,"a":90,"e":8.7},{"s":40,"a":96,"e":2.3},{"s":40,"a":102,"e":1.5},{"s":40,"a":108,"e":2},{"s":40,"a":111,"e":11.7},{"s":40,"a":118,"e":6.8},{"s":40,"a":121,"e":5.7},{"s":40,"a":127,"e":10},{"s":40,"a":134,"e":14.5},{"s":40,"a":142,"e":15.4},{"s":40,"a":150,"e":18.1},{"s":40,"a":158,"e":20},{"s":40,"a":164,"e":24.7},{"s":40,"a":174,"e":26.5},{"s":40,"a":181,"e":28.6},{"s":40,"a":190,"e":31},{"s":40,"a":199.5,"e":35},{"s":40,"a":208,"e":37.3},{"s":40,"a":214.5,"e":39.2},{"s":40,"a":224.7,"e":36.5},{"s":40,"a":233,"e":34},{"s":40,"a":241,"e":33},{"s":40,"a":251,"e":34},{"s":40,"a":260,"e":33},{"s":40,"a":270,"e":30},{"s":40,"a":274,"e":31},{"s":40,"a":281,"e":33},{"s":40,"a":288,"e":31},{"s":40,"a":292,"e":33},{"s":40,"a":295,"e":31},{"s":40,"a":298,"e":24},{"s":40,"a":302,"e":19},{"s":40,"a":307,"e":18},{"s":40,"a":315,"e":18},{"s":40,"a":322,"e":16.5},{"s":40,"a":330,"e":14.5},{"s":40,"a":340,"e":16},{"s":40,"a":349,"e":15.6},
{"s":40.83,"a":0,"e":18.3},{"s":40.83,"a":11,"e":20},{"s":40.83,"a":20,"e":21},{"s":40.83,"a":29,"e":21.3},{"s":40.83,"a":39,"e":20},{"s":40.83,"a":45,"e":18.5},{"s":40.83,"a":48,"e":20.5},{"s":40.83,"a":52,"e":22},{"s":40.83,"a":57,"e":18},{"s":40.83,"a":61,"e":16},{"s":40.83,"a":67,"e":14},{"s":40.83,"a":72,"e":13},{"s":40.83,"a":76,"e":14},{"s":40.83,"a":81,"e":15},{"s":40.83,"a":86,"e":14},{"s":40.83,"a":90,"e":11},{"s":40.83,"a":95,"e":5},{"s":40.83,"a":102,"e":3},{"s":40.83,"a":107,"e":6},{"s":40.83,"a":111,"e":13.5},{"s":40.83,"a":115,"e":11},{"s":40.83,"a":118,"e":9},{"s":40.83,"a":122,"e":8},{"s":40.83,"a":126,"e":14},{"s":40.83,"a":130,"e":19},{"s":40.83,"a":136,"e":16.5},{"s":40.83,"a":142,"e":17.5},{"s":40.83,"a":149,"e":20},{"s":40.83,"a":158,"e":22.5},{"s":40.83,"a":165,"e":26.5},{"s":40.83,"a":174,"e":28.5},{"s":40.83,"a":181,"e":30},{"s":40.83,"a":190,"e":32.5},{"s":40.83,"a":199.5,"e":36},{"s":40.83,"a":208,"e":38.5},{"s":40.83,"a":214.5,"e":40},{"s":40.83,"a":224.7,"e":37.8},{"s":40.83,"a":233,"e":35.3},{"s":40.83,"a":241,"e":34.3},{"s":40.83,"a":251,"e":35},{"s":40.83,"a":260,"e":34.3},{"s":40.83,"a":270,"e":31.5},{"s":40.83,"a":274,"e":32.5},{"s":40.83,"a":281,"e":34.5},{"s":40.83,"a":288,"e":32.5},{"s":40.83,"a":292,"e":34.5},{"s":40.83,"a":295,"e":32.5},{"s":40.83,"a":298,"e":25.5},{"s":40.83,"a":302,"e":20.5},{"s":40.83,"a":307,"e":19.5},{"s":40.83,"a":315,"e":19.5},{"s":40.83,"a":322,"e":18},{"s":40.83,"a":330,"e":16.5},{"s":40.83,"a":340,"e":18},{"s":40.83,"a":349,"e":18},
{"s":41.67,"a":0,"e":20.5},{"s":41.67,"a":11,"e":22},{"s":41.67,"a":20,"e":23},{"s":41.67,"a":29,"e":23.5},{"s":41.67,"a":39,"e":22},{"s":41.67,"a":45,"e":20},{"s":41.67,"a":48,"e":23},{"s":41.67,"a":52,"e":24},{"s":41.67,"a":58,"e":21.8},{"s":41.67,"a":64,"e":17},{"s":41.67,"a":67,"e":16},{"s":41.67,"a":72,"e":15.5},{"s":41.67,"a":76,"e":18},{"s":41.67,"a":79,"e":24},{"s":41.67,"a":83,"e":24},{"s":41.67,"a":87,"e":17},{"s":41.67,"a":90,"e":13},{"s":41.67,"a":95,"e":7},{"s":41.67,"a":100,"e":5},{"s":41.67,"a":104,"e":3},{"s":41.67,"a":107,"e":9},{"s":41.67,"a":110,"e":15},{"s":41.67,"a":114,"e":18},{"s":41.67,"a":118,"e":15},{"s":41.67,"a":122,"e":14},{"s":41.67,"a":124,"e":20},{"s":41.67,"a":127,"e":23},{"s":41.67,"a":135.6,"e":18},{"s":41.67,"a":145,"e":20.4},{"s":41.67,"a":149,"e":22},{"s":41.67,"a":165,"e":28},{"s":41.67,"a":181,"e":31},{"s":41.67,"a":190,"e":33.5},{"s":41.67,"a":199.5,"e":37},{"s":41.67,"a":208,"e":39.5},{"s":41.67,"a":214.5,"e":41},{"s":41.67,"a":224.7,"e":39},{"s":41.67,"a":233,"e":36.5},{"s":41.67,"a":241,"e":35.5},{"s":41.67,"a":251,"e":36},{"s":41.67,"a":260,"e":35.5},{"s":41.67,"a":270,"e":33},{"s":41.67,"a":274,"e":34},{"s":41.67,"a":281,"e":36},{"s":41.67,"a":288,"e":34},{"s":41.67,"a":292,"e":36},{"s":41.67,"a":295,"e":34},{"s":41.67,"a":298,"e":27},{"s":41.67,"a":302,"e":22},{"s":41.67,"a":307,"e":21},{"s":41.67,"a":315,"e":21},{"s":41.67,"a":322,"e":20},{"s":41.67,"a":330,"e":18.5},{"s":41.67,"a":340,"e":20.5},{"s":41.67,"a":349,"e":20},
{"s":42.5,"a":0,"e":23.4},{"s":42.5,"a":11,"e":25},{"s":42.5,"a":20,"e":26},{"s":42.5,"a":29,"e":26.5},{"s":42.5,"a":39,"e":25},{"s":42.5,"a":45,"e":23},{"s":42.5,"a":48,"e":26},{"s":42.5,"a":52,"e":27},{"s":42.5,"a":58,"e":24},{"s":42.5,"a":64,"e":20},{"s":42.5,"a":67,"e":18.5},{"s":42.5,"a":72,"e":18},{"s":42.5,"a":76,"e":20.5},{"s":42.5,"a":79,"e":26},{"s":42.5,"a":83,"e":26},{"s":42.5,"a":87,"e":19.5},{"s":42.5,"a":90,"e":15.5},{"s":42.5,"a":95,"e":10},{"s":42.5,"a":100,"e":8},{"s":42.5,"a":104,"e":6},{"s":42.5,"a":107,"e":11},{"s":42.5,"a":110,"e":17},{"s":42.5,"a":114,"e":20},{"s":42.5,"a":118,"e":17.5},{"s":42.5,"a":122,"e":16.5},{"s":42.5,"a":124,"e":22},{"s":42.5,"a":127,"e":25},{"s":42.5,"a":135,"e":20.5},{"s":42.5,"a":145,"e":22.5},{"s":42.5,"a":149,"e":24},{"s":42.5,"a":165,"e":30},{"s":42.5,"a":181,"e":33},{"s":42.5,"a":190,"e":35.5},{"s":42.5,"a":199.5,"e":38.5},{"s":42.5,"a":208,"e":41},{"s":42.5,"a":214.5,"e":42},{"s":42.5,"a":224.7,"e":40.5},{"s":42.5,"a":233,"e":38.5},{"s":42.5,"a":241,"e":37.5},{"s":42.5,"a":251,"e":38},{"s":42.5,"a":260,"e":37.5},{"s":42.5,"a":270,"e":35},{"s":42.5,"a":274,"e":36},{"s":42.5,"a":281,"e":38},{"s":42.5,"a":288,"e":36},{"s":42.5,"a":292,"e":38},{"s":42.5,"a":295,"e":36},{"s":42.5,"a":298,"e":29},{"s":42.5,"a":302,"e":24},{"s":42.5,"a":307,"e":23},{"s":42.5,"a":315,"e":23},{"s":42.5,"a":322,"e":22},{"s":42.5,"a":330,"e":21},{"s":42.5,"a":340,"e":23},{"s":42.5,"a":349,"e":23},
{"s":41.68,"a":102,"e":22.6},{"s":41.68,"a":99,"e":19.8},{"s":41.68,"a":100.4,"e":16.2},{"s":41.68,"a":103,"e":18.8},
{"s":46.67,"a":313.4,"e":30.9},{"s":46.67,"a":318,"e":25},{"s":46.67,"a":323,"e":24},{"s":46.67,"a":333,"e":24},{"s":46.67,"a":345,"e":27},{"s":46.67,"a":359,"e":33},{"s":46.67,"a":15,"e":37},{"s":46.67,"a":27.5,"e":42.6},{"s":46.67,"a":43.8,"e":39.5},{"s":46.67,"a":54.6,"e":30.2},{"s":46.67,"a":66,"e":34.8},{"s":46.67,"a":73,"e":33.6},{"s":46.67,"a":89,"e":35.5},{"s":46.67,"a":99,"e":39},{"s":46.67,"a":115,"e":35},{"s":46.67,"a":127.8,"e":33},{"s":46.67,"a":137,"e":42.3},{"s":46.67,"a":153.5,"e":43.5},{"s":46.67,"a":161.5,"e":39.5},{"s":46.67,"a":167,"e":35},{"s":46.67,"a":176,"e":36},{"s":46.67,"a":190,"e":38.5},{"s":46.67,"a":199,"e":40.5},{"s":46.67,"a":205,"e":42},{"s":46.67,"a":215,"e":43.5},{"s":46.67,"a":222,"e":43},{"s":46.67,"a":236,"e":40},{"s":46.67,"a":250.5,"e":39.5},{"s":46.67,"a":262.7,"e":38.5},{"s":46.67,"a":270,"e":39},{"s":46.67,"a":278,"e":41.8},{"s":46.67,"a":293,"e":39},{"s":46.67,"a":302.7,"e":43},{"s":46.67,"a":311.7,"e":37.9},
{"s":46.68,"a":71,"e":27},{"s":46.68,"a":68,"e":20.3},{"s":46.68,"a":70.5,"e":19.5},{"s":46.68,"a":73.6,"e":26.3},
{"s":46.69,"a":94.5,"e":35.3},{"s":46.69,"a":94.4,"e":26.3},{"s":46.69,"a":96.6,"e":26},{"s":46.69,"a":97,"e":34.5},
{"s":47.5,"a":0,"e":36.5},{"s":47.5,"a":15,"e":41},{"s":47.5,"a":27,"e":44.5},{"s":47.5,"a":43,"e":43},{"s":47.5,"a":54,"e":33},{"s":47.5,"a":66,"e":37.5},{"s":47.5,"a":73,"e":36},{"s":47.5,"a":89,"e":37},{"s":47.5,"a":99,"e":41.5},{"s":47.5,"a":115,"e":38.5},{"s":47.5,"a":127,"e":36.5},{"s":47.5,"a":137,"e":45},{"s":47.5,"a":153,"e":47.8},{"s":47.5,"a":163,"e":40.8},{"s":47.5,"a":170,"e":38},{"s":47.5,"a":180,"e":38.5},{"s":47.5,"a":190,"e":39.3},{"s":47.5,"a":199,"e":41.2},{"s":47.5,"a":212,"e":44},{"s":47.5,"a":222,"e":44.5},{"s":47.5,"a":236,"e":41},{"s":47.5,"a":250,"e":41},{"s":47.5,"a":262,"e":40.2},{"s":47.5,"a":270,"e":40.5},{"s":47.5,"a":278,"e":42.4},{"s":47.5,"a":293,"e":40.5},{"s":47.5,"a":303,"e":44.3},{"s":47.5,"a":312,"e":40},{"s":47.5,"a":318,"e":27.5},{"s":47.5,"a":324,"e":25},{"s":47.5,"a":335,"e":25.5},{"s":47.5,"a":345,"e":30},
{"s":48.33,"a":0,"e":40},{"s":48.33,"a":20,"e":47},{"s":48.33,"a":35,"e":46},{"s":48.33,"a":50,"e":40},{"s":48.33,"a":56,"e":36},{"s":48.33,"a":66,"e":40},{"s":48.33,"a":80,"e":38},{"s":48.33,"a":95,"e":44},{"s":48.33,"a":115,"e":42},{"s":48.33,"a":127,"e":40},{"s":48.33,"a":137,"e":48},{"s":48.33,"a":153,"e":52},{"s":48.33,"a":165,"e":42},{"s":48.33,"a":180,"e":41},{"s":48.33,"a":190,"e":40},{"s":48.33,"a":199,"e":42},{"s":48.33,"a":212,"e":45},{"s":48.33,"a":222,"e":46},{"s":48.33,"a":240,"e":42.5},{"s":48.33,"a":256,"e":43},{"s":48.33,"a":269,"e":42},{"s":48.33,"a":282,"e":43},{"s":48.33,"a":293,"e":42},{"s":48.33,"a":305,"e":45.5},{"s":48.33,"a":312,"e":42},{"s":48.33,"a":318,"e":30},{"s":48.33,"a":324,"e":26},{"s":48.33,"a":335,"e":27},{"s":48.33,"a":345,"e":33},
{"s":49.17,"a":0,"e":49},{"s":49.17,"a":10,"e":52},{"s":49.17,"a":21,"e":53},{"s":49.17,"a":35,"e":50},{"s":49.17,"a":47,"e":45},{"s":49.17,"a":52,"e":43.6},{"s":49.17,"a":56,"e":47},{"s":49.17,"a":63,"e":54},{"s":49.17,"a":79,"e":53},{"s":49.17,"a":88,"e":60},{"s":49.17,"a":107,"e":59},{"s":49.17,"a":122,"e":60.6},{"s":49.17,"a":136,"e":67},{"s":49.17,"a":150,"e":74},{"s":49.17,"a":155,"e":62},{"s":49.17,"a":160,"e":57},{"s":49.17,"a":170,"e":52},{"s":49.17,"a":180,"e":46},{"s":49.17,"a":190,"e":41.5},{"s":49.17,"a":200.6,"e":43},{"s":49.17,"a":212,"e":46},{"s":49.17,"a":222,"e":47},{"s":49.17,"a":240,"e":44.6},{"s":49.17,"a":256,"e":45},{"s":49.17,"a":269,"e":43.5},{"s":49.17,"a":282.6,"e":44},{"s":49.17,"a":293.5,"e":49.5},{"s":49.17,"a":305,"e":47},{"s":49.17,"a":312,"e":44},{"s":49.17,"a":319.7,"e":33},{"s":49.17,"a":323.8,"e":27.3},{"s":49.17,"a":337,"e":31},{"s":49.17,"a":343,"e":42.8},{"s":49.17,"a":350,"e":46},
{"s":48.34,"a":191,"e":55},{"s":48.34,"a":183,"e":59.3},{"s":48.34,"a":177,"e":57.5},{"s":48.34,"a":182,"e":51.3},
{"s":47.51,"a":171.5,"e":70.2},{"s":47.51,"a":155,"e":71.9},{"s":47.51,"a":143,"e":64.5},{"s":47.51,"a":157.5,"e":63.5},
{"s":50,"a":0,"e":52},{"s":50,"a":17,"e":55},{"s":50,"a":39,"e":50},{"s":50,"a":38,"e":58},{"s":50,"a":26,"e":67},{"s":50,"a":13,"e":77},{"s":50,"a":8,"e":84},{"s":50,"a":90,"e":86},{"s":50,"a":120,"e":83},{"s":50,"a":150,"e":80},{"s":50,"a":170,"e":77},{"s":50,"a":187,"e":72},{"s":50,"a":197,"e":61},{"s":50,"a":211,"e":60},{"s":50,"a":215,"e":55.5},{"s":50,"a":226,"e":48},{"s":50,"a":233,"e":47},{"s":50,"a":245,"e":48},{"s":50,"a":260,"e":47},{"s":50,"a":275,"e":47},{"s":50,"a":283.6,"e":47.7},{"s":50,"a":293,"e":50},{"s":50,"a":303.4,"e":48.5},{"s":50,"a":320,"e":58.3},{"s":50,"a":335,"e":56},{"s":50,"a":350,"e":55},
{"s":48.35,"a":243.8,"e":52.6},{"s":48.35,"a":244,"e":58},{"s":48.35,"a":235.8,"e":57.5},{"s":48.35,"a":237,"e":52.8},
{"s":47.52,"a":288,"e":45.9},{"s":47.52,"a":293,"e":47.2},{"s":47.52,"a":295,"e":51.6},{"s":47.52,"a":289,"e":51.6},
{"s":50.01,"a":123,"e":73.2},{"s":50.01,"a":99,"e":67.8},{"s":50.01,"a":104,"e":63},{"s":50.01,"a":115,"e":64.4},{"s":50.01,"a":124.5,"e":68.4},
{"s":50.84,"a":120,"e":72.9},{"s":50.84,"a":106,"e":68.4},{"s":50.84,"a":108,"e":65},{"s":50.84,"a":115,"e":65.8},
{"s":50.02,"a":69,"e":72.9},{"s":50.02,"a":70,"e":68.4},{"s":50.02,"a":80,"e":68.3},{"s":50.02,"a":76,"e":73.5},
{"s":50.03,"a":51.6,"e":59},{"s":50.03,"a":47.8,"e":52.3},{"s":50.03,"a":52.6,"e":53.4},{"s":50.03,"a":60.4,"e":58.6},
{"s":50.04,"a":203,"e":45.9},{"s":50.04,"a":198,"e":50.6},{"s":50.04,"a":190,"e":47},{"s":50.04,"a":195.5,"e":43},
{"s":50.05,"a":324.8,"e":31.9},{"s":50.05,"a":330.6,"e":31.4},{"s":50.05,"a":333,"e":35.5},{"s":50.05,"a":326.5,"e":36},
{"s":50.83,"a":301,"e":62},{"s":50.83,"a":329.6,"e":68.4},{"s":50.83,"a":356,"e":66.5},{"s":50.83,"a":24,"e":60},{"s":50.83,"a":37.5,"e":52},{"s":50.83,"a":32,"e":60},{"s":50.83,"a":11,"e":69},{"s":50.83,"a":4,"e":80},{"s":50.83,"a":60,"e":83.5},{"s":50.83,"a":120,"e":84.3},{"s":50.83,"a":170,"e":80},{"s":50.83,"a":195,"e":80},{"s":50.83,"a":248,"e":77},{"s":50.83,"a":256,"e":62},{"s":50.83,"a":268,"e":52.4},{"s":50.83,"a":281,"e":54.7},{"s":50.83,"a":285,"e":63},
{"s":51.67,"a":316,"e":78.6},{"s":51.67,"a":337,"e":80.4},{"s":51.67,"a":0,"e":85},{"s":51.67,"a":60,"e":88},{"s":51.67,"a":160,"e":84.8},{"s":51.67,"a":180,"e":77},{"s":51.67,"a":208,"e":77},{"s":51.67,"a":237,"e":75.6},{"s":51.67,"a":270,"e":78},{"s":51.67,"a":295,"e":80},
{"s":51.68,"a":303,"e":61.4},{"s":51.68,"a":322,"e":67.3},{"s":51.68,"a":322,"e":71.2},{"s":51.68,"a":300,"e":63.7},
{"s":52.5,"a":300,"e":85},{"s":52.5,"a":0,"e":87},{"s":52.5,"a":180,"e":82},{"s":52.5,"a":205,"e":77},{"s":52.5,"a":240,"e":75.5},{"s":52.5,"a":290,"e":81.8}
],
"bands":[{"lo":34.17,"hi":35},{"lo":35,"hi":35.83},{"lo":35.83,"hi":36.67},{"lo":36.67,"hi":37.5},{"lo":37.5,"hi":38.33},{"lo":38.33,"hi":39.17},{"lo":39.17,"hi":40},{"lo":40,"hi":40.83},{"lo":40.83,"hi":41.67},{"lo":41.67,"hi":42.5},{"lo":42.5,"hi":46.67},{"lo":46.67,"hi":47.5},{"lo":47.5,"hi":48.33},{"lo":48.33,"hi":49.17},{"lo":49.17,"hi":50},{"lo":50,"hi":50.83},{"lo":50.83,"hi":51.67},{"lo":51.67,"hi":52.5},{"lo":52.5,"hi":53.33},{"lo":53.33,"hi":54.17},{"lo":54.17,"hi":55},{"lo":55,"hi":55.81}]
},
"hconcat":[
{"width":1335,"height":1390,"projection":{"type":"azimuthalEquidistant","rotate":[180,-90,0],"reflectX":true,"scale":350.8,"translate":[700,656],"clipAngle":90,"precision":0.5},
"layer":[
{"data":{"name":"A"},"mark":{"type":"line","filled":true,"interpolate":"cardinal-closed","strokeWidth":0},"encoding":{"longitude":{"field":"a","type":"quantitative"},"latitude":{"field":"e","type":"quantitative"},"detail":{"field":"s","type":"quantitative"},"color":{"field":"s","type":"quantitative","legend":null,"scale":{"type":"threshold","domain":[35,35.83,36.67,37.5,38.33,39.17,40,40.83,41.67,42.5,46.67,47.5,48.33,49.17,50,50.83,51.67,52.5,53.33,54.17,55],"range":["#ffffff","#ff0000","#ff2b00","#ff5500","#ff8000","#ffaa00","#ffd400","#ffff00","#c0ff00","#80ff00","#00ff00","#00ff50","#00ff90","#00ffcc","#00ffff","#00d4ff","#00a8ff","#0080ff","#0050ff","#0020ff","#0000ff","#c0c0c0"]}}}},
{"data":{"graticule":{"stepMinor":[30,15],"stepMajor":[90,360],"extentMinor":[[-180,-75],[180,75]]}},"mark":{"type":"geoshape","filled":false,"stroke":"#808080","strokeOpacity":0.55,"strokeWidth":2.5}},
{"data":{"sphere":true},"mark":{"type":"geoshape","filled":false,"stroke":"#8c8c8c","strokeWidth":3}},
{"data":{"name":"ticks"},"mark":{"type":"line","stroke":"#8c8c8c","strokeWidth":2},"encoding":{"longitude":{"field":"a","type":"quantitative"},"latitude":{"field":"e","type":"quantitative"},"detail":{"field":"k","type":"quantitative"}}},
{"data":{"name":"az"},"mark":{"type":"text","fontSize":46,"color":"#333333"},"encoding":{"longitude":{"field":"a","type":"quantitative"},"latitude":{"field":"e","type":"quantitative"},"text":{"field":"t"}}},
{"data":{"name":"rdark"},"mark":{"type":"text","fontSize":49,"color":"#000000","dx":-40},"encoding":{"longitude":{"field":"a","type":"quantitative"},"latitude":{"field":"e","type":"quantitative"},"text":{"field":"t"}}},
{"data":{"name":"rlight"},"mark":{"type":"text","fontSize":49,"color":"#5f9080","opacity":0.45,"dx":-40},"encoding":{"longitude":{"field":"a","type":"quantitative"},"latitude":{"field":"e","type":"quantitative"},"text":{"field":"t"}}},
{"data":{"values":[{"a":313.7,"e":-47.7,"t":"A"}]},"mark":{"type":"text","fontSize":92,"fontWeight":"bold","font":"Roboto","color":"#111111"},"encoding":{"longitude":{"field":"a","type":"quantitative"},"latitude":{"field":"e","type":"quantitative"},"text":{"field":"t"}}}
]},
{"width":1290,"height":1390,"projection":{"type":"azimuthalEquidistant","rotate":[180,-90,0],"reflectX":true,"scale":350.8,"translate":[661,658],"clipAngle":90,"precision":0.6},
"layer":[
{"data":{"name":"B"},"mark":{"type":"line","filled":true,"interpolate":"cardinal-closed","strokeWidth":0},"encoding":{"longitude":{"field":"a","type":"quantitative"},"latitude":{"field":"e","type":"quantitative"},"detail":{"field":"s","type":"quantitative"},"color":{"field":"s","type":"quantitative","legend":null,"scale":{"type":"threshold","domain":[35,35.83,36.67,37.5,38.33,39.17,40,40.83,41.67,42.5,46.67,47.5,48.33,49.17,50,50.83,51.67,52.5,53.33,54.17,55],"range":["#ffffff","#ff0000","#ff2b00","#ff5500","#ff8000","#ffaa00","#ffd400","#ffff00","#c0ff00","#80ff00","#00ff00","#00ff50","#00ff90","#00ffcc","#00ffff","#00d4ff","#00a8ff","#0080ff","#0050ff","#0020ff","#0000ff","#c0c0c0"]}}}},
{"data":{"graticule":{"stepMinor":[30,15],"stepMajor":[90,360],"extentMinor":[[-180,-75],[180,75]]}},"mark":{"type":"geoshape","filled":false,"stroke":"#808080","strokeOpacity":0.55,"strokeWidth":2.5}},
{"data":{"sphere":true},"mark":{"type":"geoshape","filled":false,"stroke":"#8c8c8c","strokeWidth":3}},
{"data":{"name":"ticks"},"mark":{"type":"line","stroke":"#8c8c8c","strokeWidth":2},"encoding":{"longitude":{"field":"a","type":"quantitative"},"latitude":{"field":"e","type":"quantitative"},"detail":{"field":"k","type":"quantitative"}}},
{"data":{"name":"az"},"mark":{"type":"text","fontSize":46,"color":"#333333"},"encoding":{"longitude":{"field":"a","type":"quantitative"},"latitude":{"field":"e","type":"quantitative"},"text":{"field":"t"}}},
{"data":{"name":"rdark"},"mark":{"type":"text","fontSize":49,"color":"#000000","dx":-40},"encoding":{"longitude":{"field":"a","type":"quantitative"},"latitude":{"field":"e","type":"quantitative"},"text":{"field":"t"}}},
{"data":{"name":"rlight"},"mark":{"type":"text","fontSize":49,"color":"#5f9080","opacity":0.45,"dx":-40},"encoding":{"longitude":{"field":"a","type":"quantitative"},"latitude":{"field":"e","type":"quantitative"},"text":{"field":"t"}}},
{"data":{"values":[{"a":314.9,"e":-45.5,"t":"B"}]},"mark":{"type":"text","fontSize":92,"fontWeight":"bold","font":"Roboto","color":"#111111"},"encoding":{"longitude":{"field":"a","type":"quantitative"},"latitude":{"field":"e","type":"quantitative"},"text":{"field":"t"}}}
]},
{"width":350,"height":1390,
"layer":[
{"data":{"name":"bands"},"mark":{"type":"rect"},"encoding":{"x":{"datum":0,"type":"quantitative","scale":{"domain":[-0.476,2.857],"nice":false,"zero":false},"axis":null},"x2":{"datum":1},"y":{"field":"lo","type":"quantitative","scale":{"domain":[31.74,57.48],"nice":false,"zero":false},"axis":{"orient":"right","offset":-195,"values":[35,40,45,50,55],"format":".2f","domain":false,"grid":false,"title":null,"tickSize":18,"tickWidth":2.5,"tickColor":"#333333","labelFontSize":43,"labelColor":"#333333","labelPadding":26}},"y2":{"field":"hi"},"color":{"field":"lo","type":"quantitative","legend":null,"scale":{"type":"threshold","domain":[35,35.83,36.67,37.5,38.33,39.17,40,40.83,41.67,42.5,46.67,47.5,48.33,49.17,50,50.83,51.67,52.5,53.33,54.17,55],"range":["#ffffff","#ff0000","#ff2b00","#ff5500","#ff8000","#ffaa00","#ffd400","#ffff00","#c0ff00","#80ff00","#00ff00","#00ff50","#00ff90","#00ffcc","#00ffff","#00d4ff","#00a8ff","#0080ff","#0050ff","#0020ff","#0000ff","#c0c0c0"]}}}},
{"data":{"values":[{"lo":34.17,"hi":55.81}]},"mark":{"type":"rect","filled":false,"stroke":"#404040","strokeWidth":4},"encoding":{"x":{"datum":0,"type":"quantitative"},"x2":{"datum":1},"y":{"field":"lo","type":"quantitative"},"y2":{"field":"hi"}}},
{"data":{"values":[{"t":"SNR’"}]},"mark":{"type":"text","fontSize":56,"fontStyle":"italic","align":"left","color":"#000000"},"encoding":{"x":{"datum":-1.17,"type":"quantitative"},"y":{"datum":32.65,"type":"quantitative"},"text":{"field":"t"}}},
{"data":{"values":[{"t":"(dB Hz)"}]},"mark":{"type":"text","fontSize":56,"align":"left","color":"#000000"},"encoding":{"x":{"datum":0.276,"type":"quantitative"},"y":{"datum":32.65,"type":"quantitative"},"text":{"field":"t"}}}
]}
]}
